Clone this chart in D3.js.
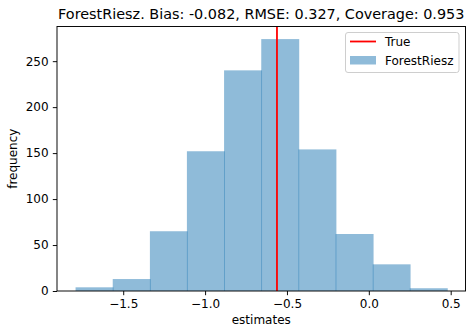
<!DOCTYPE html>
<html>
<head>
<meta charset="utf-8">
<script src="https://cdn.jsdelivr.net/npm/d3@7"></script>
<style>
  body { margin: 0; background: #fff; }
  text { font-family: "DejaVu Sans", sans-serif; fill: #000; }
</style>
</head>
<body>
<svg id="chart" width="469" height="326"></svg>
<script>
// histogram bin edges
const binEdges = [-1.791, -1.564, -1.337, -1.111, -0.884, -0.657, -0.430, -0.203, 0.024, 0.250, 0.477];
// counts per bin
const counts = [4, 13, 65, 152, 240, 274, 154, 62, 29, 3];
const trueValue = -0.561;
const xTicks = [-1.5, -1.0, -0.5, 0.0, 0.5];
const yTicks = [0, 50, 100, 150, 200, 250];
const title = "ForestRiesz. Bias: -0.082, RMSE: 0.327, Coverage: 0.953";

const bins = counts.map((c, i) => ({ x0: binEdges[i], x1: binEdges[i + 1], n: c }));

const margin = { left: 57, right: 3.5, top: 26.5, bottom: 35 };
const W = 469, H = 326;
const svg = d3.select("#chart");

// matplotlib style 5% margins on x, ymax = 1.05 * max
const span = binEdges[binEdges.length - 1] - binEdges[0];
const x = d3.scaleLinear()
  .domain([binEdges[0] - 0.05 * span, binEdges[binEdges.length - 1] + 0.05 * span])
  .range([margin.left, W - margin.right]);
const y = d3.scaleLinear()
  .domain([0, d3.max(counts) * 1.05])
  .range([H - margin.bottom, margin.top]);

const fmt = d => (d < 0 ? "\u2212" : "") + Math.abs(d).toFixed(1);

// bars
svg.append("g")
  .selectAll("rect")
  .data(bins)
  .enter()
  .append("rect")
  .attr("x", d => x(d.x0))
  .attr("width", d => x(d.x1) - x(d.x0) + 0.8)
  .attr("y", d => y(d.n))
  .attr("height", d => y(0) - y(d.n))
  .attr("fill", "#1f77b4")
  .attr("fill-opacity", 0.5);

// true line
svg.append("line")
  .attr("x1", x(trueValue)).attr("x2", x(trueValue))
  .attr("y1", y.range()[1]).attr("y2", y.range()[0])
  .attr("stroke", "red").attr("stroke-width", 1.8);

// axes
const xAxis = svg.append("g")
  .attr("transform", "translate(0," + y(0) + ")")
  .call(d3.axisBottom(x).tickValues(xTicks).tickFormat(fmt).tickSize(4.2).tickPadding(4.2));
const yAxis = svg.append("g")
  .attr("transform", "translate(" + margin.left + ",0)")
  .call(d3.axisLeft(y).tickValues(yTicks).tickSize(4.2).tickPadding(4.2));
[xAxis, yAxis].forEach(g => {
  g.selectAll("text").style("font-family", "DejaVu Sans").style("font-size", "12px").attr("fill", "#000");
  g.selectAll("line").attr("stroke", "#000").attr("stroke-width", 0.96);
  g.select(".domain").remove();
});

// frame
svg.append("rect")
  .attr("x", margin.left).attr("y", margin.top)
  .attr("width", W - margin.right - margin.left)
  .attr("height", y(0) - margin.top)
  .attr("fill", "none").attr("stroke", "#000").attr("stroke-width", 0.96);

// labels
svg.append("text")
  .attr("x", (margin.left + W - margin.right) / 2).attr("y", 19.3)
  .attr("text-anchor", "middle").style("font-size", "14.4px")
  .text(title);
svg.append("text")
  .attr("x", (margin.left + W - margin.right) / 2).attr("y", 324)
  .attr("text-anchor", "middle").style("font-size", "12px")
  .text("estimates");
svg.append("text")
  .attr("transform", "translate(16.5," + (margin.top + y(0)) / 2 + ") rotate(-90)")
  .attr("text-anchor", "middle").style("font-size", "12px")
  .text("frequency");

// legend
const lg = svg.append("g");
lg.append("rect")
  .attr("x", 345.5).attr("y", 32.5).attr("width", 113.5).attr("height", 40)
  .attr("rx", 2.5).attr("fill", "#fff").attr("fill-opacity", 0.8)
  .attr("stroke", "#ccc").attr("stroke-width", 0.96);
lg.append("line")
  .attr("x1", 350).attr("x2", 376).attr("y1", 41.5).attr("y2", 41.5)
  .attr("stroke", "red").attr("stroke-width", 1.8);
lg.append("text").attr("x", 385).attr("y", 46).style("font-size", "12px").text("True");
lg.append("rect")
  .attr("x", 350).attr("y", 56).attr("width", 26).attr("height", 8.5)
  .attr("fill", "#1f77b4").attr("fill-opacity", 0.5);
lg.append("text").attr("x", 385).attr("y", 64.5).style("font-size", "12px").text("ForestRiesz");
</script>
</body>
</html>
